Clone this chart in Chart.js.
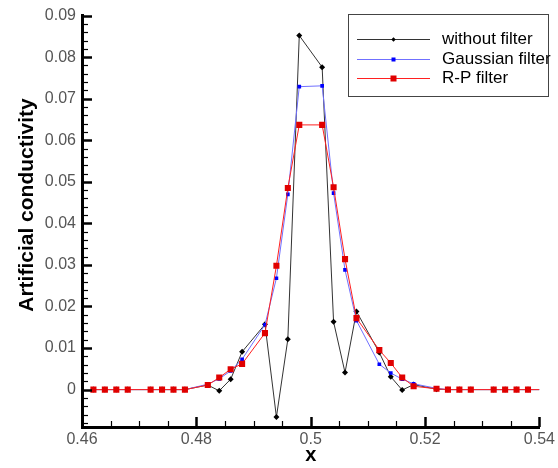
<!DOCTYPE html>
<html>
<head>
<meta charset="utf-8">
<script src="https://cdn.jsdelivr.net/npm/chart.js@4.4.1/dist/chart.umd.min.js"></script>
<style>
  html, body { margin: 0; padding: 0; background: #fff; }
  canvas { display: block; }
</style>
</head>
<body>
<canvas id="chart" width="558" height="468"></canvas>
<script>
// ==========================================================================
// DATA
// ==========================================================================
const xValues = [0.462, 0.464, 0.466, 0.468, 0.472, 0.474, 0.476, 0.478,
                 0.482, 0.484, 0.486, 0.488, 0.492, 0.494, 0.496, 0.498,
                 0.502, 0.504, 0.506, 0.508, 0.512, 0.514, 0.516, 0.518,
                 0.522, 0.524, 0.526, 0.528, 0.532, 0.534, 0.536, 0.538, 0.54];

const withoutFilter = [0, 0, 0, 0, 0, 0, 0, 0,
                       0.0011, -0.0003, 0.0025, 0.0091, 0.0157, -0.0066, 0.0121, 0.0852,
                       0.0776, 0.0163, 0.0041, 0.0188, 0.0089, 0.0031, -0.0001, 0.0012,
                       0.0001, 0, 0, 0, 0, 0, 0, 0, 0];

const gaussianFilter = [0, 0, 0, 0, 0, 0, 0, 0,
                        0.0013, 0.0026, 0.0045, 0.0073, 0.0156, 0.0268, 0.047, 0.0729,
                        0.0731, 0.0473, 0.0288, 0.0166, 0.0061, 0.004, 0.0025, 0.0014,
                        0.0003, 0, 0, 0, 0, 0, 0, 0, 0];

const rpFilter = [0, 0, 0, 0, 0, 0, 0, 0,
                  0.0011, 0.0029, 0.0049, 0.0062, 0.0136, 0.0298, 0.0485, 0.0637,
                  0.0637, 0.0487, 0.0314, 0.0172, 0.0095, 0.0064, 0.0029, 0.0008,
                  0.0002, 0, 0, 0, 0, 0, 0, 0, 0];

const seriesLabels = ['without filter', 'Gaussian filter', 'R-P filter'];
const xTickValues = [0.46, 0.48, 0.5, 0.52, 0.54];
const yTickValues = [0, 0.01, 0.02, 0.03, 0.04, 0.05, 0.06, 0.07, 0.08, 0.09];

// ==========================================================================
// STYLE
// ==========================================================================
const FONT = '"Liberation Sans", Arial, Helvetica, sans-serif';
Chart.defaults.font.family = FONT;

const toPoints = (ys) => xValues.map((x, i) => ({ x: x, y: ys[i] }));
// the last vertex (x = 0.54) carries no symbol in the reference
const markerRadius = (r) => (ctx) => (xValues[ctx.dataIndex] === 0.54 ? 0 : r);

// Tecplot-like inward ticks, y title and boxed legend
const tecplotDecor = {
    id: 'tecplotDecor',
    afterDraw(chart) {
        const ctx = chart.ctx;
        const xs = chart.scales.x;
        const ys = chart.scales.y;
        const area = chart.chartArea;

        ctx.save();
        ctx.strokeStyle = '#000';

        // x ticks: major every 0.02, minor every 0.005
        for (let k = 0; k <= 16; k++) {
            const v = 0.46 + k * 0.005;
            const px = Math.round(xs.getPixelForValue(v)) + 0.5;
            const len = (k % 4 === 0) ? 10 : 6;
            ctx.lineWidth = (k % 4 === 0) ? 2.5 : 1.2;
            ctx.beginPath();
            ctx.moveTo(px, area.bottom);
            ctx.lineTo(px, area.bottom - len);
            ctx.stroke();
        }
        // y ticks: major every 0.01, minor every 0.002
        for (let k = -4; k <= 45; k++) {
            const v = k * 0.002;
            const py = Math.round(ys.getPixelForValue(v)) + 0.5;
            const len = (k % 5 === 0) ? 10 : 6;
            ctx.lineWidth = (k % 5 === 0) ? 2.5 : 1.2;
            ctx.beginPath();
            ctx.moveTo(area.left, py);
            ctx.lineTo(area.left + len, py);
            ctx.stroke();
        }

        // y axis title
        ctx.fillStyle = '#000';
        ctx.font = 'bold 21px ' + FONT;
        ctx.textAlign = 'center';
        ctx.textBaseline = 'middle';
        ctx.translate(27, 205);
        ctx.rotate(-Math.PI / 2);
        ctx.fillText('Artificial conductivity', 0, 0);
        ctx.restore();

        // legend box
        ctx.save();
        const bx = 348, by = 14, bw = 200, bh = 82;
        ctx.fillStyle = '#fff';
        ctx.fillRect(bx, by, bw, bh);
        ctx.strokeStyle = '#444';
        ctx.lineWidth = 1;
        ctx.strokeRect(bx + 0.5, by + 0.5, bw, bh);

        const rows = [39, 59, 78];
        chart.data.datasets.forEach((ds, i) => {
            const y = rows[i] + 0.5;
            ctx.strokeStyle = ds.borderColor;
            ctx.lineWidth = 1;
            ctx.beginPath();
            ctx.moveTo(357, y);
            ctx.lineTo(430, y);
            ctx.stroke();
            ctx.fillStyle = ds.pointBackgroundColor;
            const s = ds.legendMarker;
            if (ds.pointStyle === 'rectRot') {
                ctx.beginPath();
                ctx.moveTo(393.5 - s, y);
                ctx.lineTo(393.5, y - s);
                ctx.lineTo(393.5 + s, y);
                ctx.lineTo(393.5, y + s);
                ctx.closePath();
                ctx.fill();
            } else {
                ctx.fillRect(393.5 - s, y - s, 2 * s, 2 * s);
            }
            ctx.fillStyle = '#000';
            ctx.font = '17px ' + FONT;
            ctx.textAlign = 'left';
            ctx.textBaseline = 'middle';
            ctx.fillText(ds.label, 442, rows[i]);
        });
        ctx.restore();
    }
};

new Chart(document.getElementById('chart'), {
    type: 'line',
    data: {
        datasets: [
            {
                label: seriesLabels[0],
                data: toPoints(withoutFilter),
                borderColor: '#333',
                borderWidth: 1,
                pointStyle: 'rectRot',
                pointRadius: markerRadius(3),
                pointBackgroundColor: '#000',
                pointBorderWidth: 0,
                legendMarker: 2.2,
                order: 3
            },
            {
                label: seriesLabels[1],
                data: toPoints(gaussianFilter),
                borderColor: '#7070ff',
                borderWidth: 1,
                pointStyle: 'rect',
                pointRadius: markerRadius(2.6),
                pointBackgroundColor: '#0000ff',
                pointBorderWidth: 0,
                legendMarker: 2,
                order: 2
            },
            {
                label: seriesLabels[2],
                data: toPoints(rpFilter),
                borderColor: '#ff2020',
                borderWidth: 1,
                pointStyle: 'rect',
                pointRadius: markerRadius(4.3),
                pointBackgroundColor: '#e00000',
                pointBorderWidth: 0,
                legendMarker: 3,
                order: 1
            }
        ]
    },
    options: {
        responsive: false,
        animation: false,
        devicePixelRatio: 1,
        layout: { padding: { top: 11, right: 18, left: 0, bottom: 0 } },
        plugins: {
            legend: { display: false },
            tooltip: { enabled: false }
        },
        elements: { line: { tension: 0 } },
        scales: {
            x: {
                type: 'linear',
                min: 0.46,
                max: 0.54,
                afterBuildTicks: (s) => { s.ticks = xTickValues.map(v => ({ value: v })); },
                afterFit: (s) => { s.height = 41; },
                grid: { display: false, drawTicks: false },
                border: { display: true, color: '#000', width: 3 },
                ticks: {
                    padding: 3,
                    color: '#555',
                    font: { size: 16 },
                    maxRotation: 0,
                    callback: (v) => String(+v.toFixed(2))
                },
                title: {
                    display: true,
                    text: 'x',
                    color: '#000',
                    font: { size: 20, weight: 'bold', lineHeight: 1 },
                    padding: { top: 0, bottom: 3 }
                }
            },
            y: {
                type: 'linear',
                min: -0.009,
                max: 0.09,
                afterBuildTicks: (s) => { s.ticks = yTickValues.map(v => ({ value: v })); },
                afterFit: (s) => { s.width = 82; },
                grid: { display: false, drawTicks: false },
                border: { display: true, color: '#000', width: 3 },
                ticks: {
                    padding: 6,
                    color: '#555',
                    font: { size: 16 },
                    callback: (v) => (v === 0 ? '0' : String(+v.toFixed(2)))
                }
            }
        }
    },
    plugins: [tecplotDecor]
});
</script>
</body>
</html>
